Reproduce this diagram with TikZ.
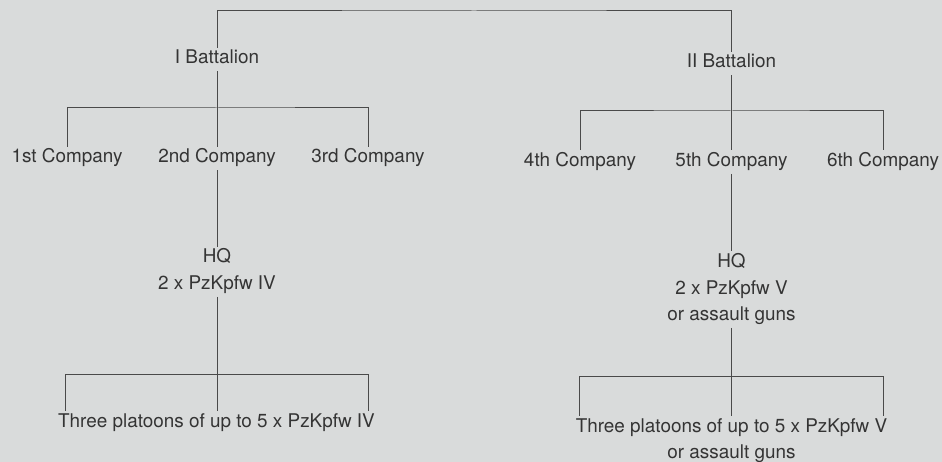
\documentclass[tikz,border=0pt]{standalone}
\usepackage{fontspec}
\setmainfont{TeX Gyre Heros}
\definecolor{bg}{HTML}{D9DBDB}
\definecolor{ln}{HTML}{4A4A4A}
\definecolor{txt}{HTML}{343434}
\begin{document}
\begin{tikzpicture}[x=1pt,y=-1pt,
  lbl/.style={font=\fontsize{18.9}{22}\selectfont, text=txt, inner sep=2.5pt,
              text height=13.6pt, text depth=4.7pt, anchor=base},
  conn/.style={draw=ln, line width=1pt}]
\fill[bg] (0,0) rectangle (942,462);
\useasboundingbox (0,0) rectangle (942,462);

% left battalion
\node[lbl] (b1) at (217,64) {I Battalion};
\node[lbl] (c1) at (67,163) {1st Company};
\node[lbl] (c2) at (217,163) {2nd Company};
\node[lbl] (c3) at (368,163) {3rd Company};
\node[lbl] (h1a) at (217,263) {HQ};
\node[lbl] (h1b) at (217,289.5) {2 x PzKpfw IV};
\node[lbl] (p1) at (216.5,427) {Three platoons of up to 5 x PzKpfw IV};

% right battalion
\node[lbl] (b2) at (731.5,68) {II Battalion};
\node[lbl] (c4) at (580,166.5) {4th Company};
\node[lbl] (c5) at (731.5,166.5) {5th Company};
\node[lbl] (c6) at (883,166.5) {6th Company};
\node[lbl] (h2a) at (731.5,267.7) {HQ};
\node[lbl] (h2b) at (731.5,294.2) {2 x PzKpfw V};
\node[lbl] (h2c) at (731.5,320.5) {or assault guns};
\node[lbl] (p2a) at (731.5,432) {Three platoons of up to 5 x PzKpfw V};
\node[lbl] (p2b) at (731.5,458.3) {or assault guns};

% top bar
\coordinate (tb) at (474,11);
\draw[conn] (b1.north) |- (tb) -| (b2.north);

% left connectors
\coordinate (j1) at (217,108);
\draw[conn] (b1.south) -- (c2.north);
\draw[conn] (c1.north) |- (j1) -| (c3.north);
\draw[conn] (c2.south) -- (h1a.north);
\draw[conn] (h1b.south) -- (h1b.south |- p1.north);
\coordinate (pl1) at (65,374);
\coordinate (pr1) at (368,374);
\draw[conn] (pl1 |- p1.north) -- (pl1) -- (pr1) -- (pr1 |- p1.north);

% right connectors
\coordinate (j2) at (731.5,111);
\draw[conn] (b2.south) -- (c5.north);
\draw[conn] (c4.north) |- (j2) -| (c6.north);
\draw[conn] (c5.south) -- (h2a.north);
\draw[conn] (h2c.south) -- (p2a.north);
\coordinate (pl2) at (579,376);
\coordinate (pr2) at (883,376);
\draw[conn] (pl2 |- p2a.north) -- (pl2) -- (pr2) -- (pr2 |- p2a.north);
\end{tikzpicture}
\end{document}
